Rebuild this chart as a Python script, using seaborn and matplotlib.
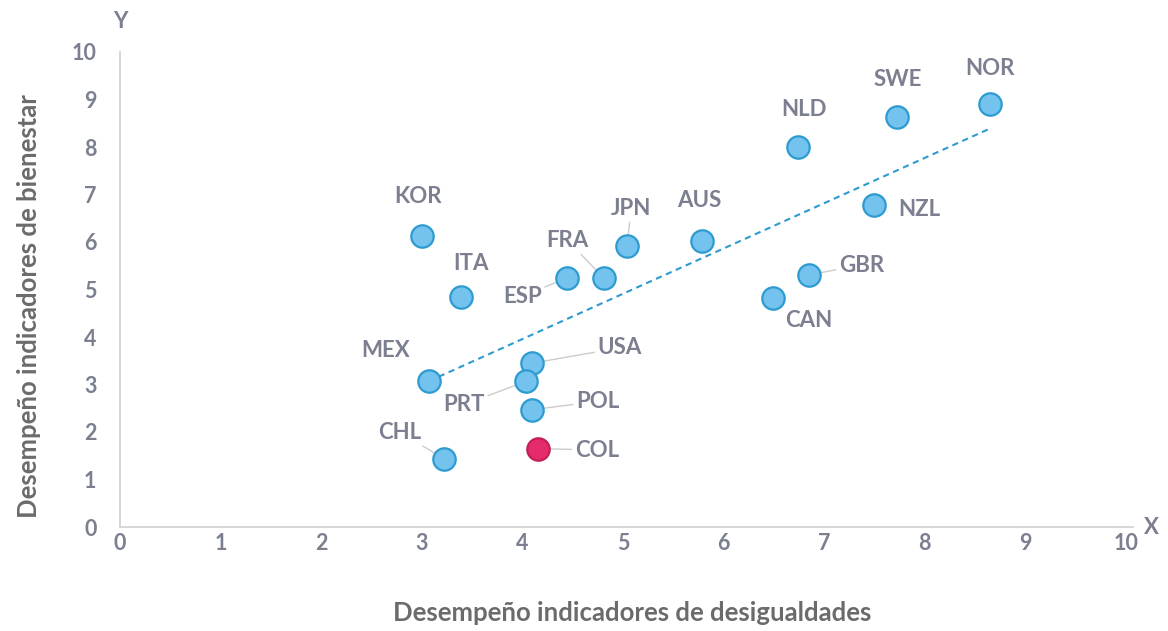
import matplotlib
matplotlib.use("Agg")
import matplotlib.pyplot as plt
import pandas as pd
import seaborn as sns

# Country codes and scores
countries = ['KOR', 'ITA', 'MEX', 'CHL', 'ESP', 'FRA', 'JPN', 'AUS', 'USA',
             'PRT', 'POL', 'COL', 'NLD', 'SWE', 'NOR', 'NZL', 'GBR', 'CAN']
desigualdades = [3.00, 3.39, 3.07, 3.22, 4.44, 4.81, 5.04, 5.79, 4.10,
                 4.04, 4.10, 4.16, 6.74, 7.72, 8.65, 7.50, 6.85, 6.49]
bienestar = [6.13, 4.84, 3.07, 1.44, 5.24, 5.24, 5.92, 6.03, 3.45,
             3.07, 2.47, 1.65, 7.99, 8.63, 8.90, 6.77, 5.31, 4.82]

# Dashed trend line ends
trend_x = [3.07, 8.65]
trend_y = [3.07, 8.39]

highlight = 'COL'
with_leader = ['ESP', 'FRA', 'JPN', 'USA', 'PRT', 'POL', 'CHL', 'COL', 'GBR']

# label offsets in points (layout only)
offsets = {
    'KOR': (-3, 28), 'ITA': (7, 24), 'MEX': (-31, 22), 'CHL': (-32, 19),
    'ESP': (-32, -13), 'FRA': (-26, 27), 'JPN': (3, 27), 'AUS': (-2, 29),
    'USA': (63, 11), 'PRT': (-45, -17), 'POL': (47, 6), 'COL': (42, -1),
    'NLD': (4, 27), 'SWE': (1, 27), 'NOR': (0, 26), 'NZL': (32, -3),
    'GBR': (38, 7), 'CAN': (26, -16),
}

df = pd.DataFrame({'pais': countries, 'x': desigualdades, 'y': bienestar})

sns.set_style("white")
plt.rcParams['font.family'] = ['Lato', 'DejaVu Sans']

label_col = '#7b7f90'
axis_col = '#6b6b6b'

fig = plt.figure(figsize=(11.68, 6.31), dpi=100)
ax = fig.add_axes([120 / 1168, 1 - 527 / 631, 1013 / 1168, 475 / 631])

# trend line
sns.lineplot(x=trend_x, y=trend_y, ax=ax, color='#2e9bd0', lw=1.5,
             linestyle=(0, (3, 2.2)), zorder=1)

others = df[df['pais'] != highlight]
col = df[df['pais'] == highlight]
sns.scatterplot(data=others, x='x', y='y', ax=ax, s=260, color='#73c3ee',
                edgecolor='#2e9bd0', linewidth=1.6, zorder=3)
sns.scatterplot(data=col, x='x', y='y', ax=ax, s=260, color='#e52b6b',
                edgecolor='#c41e58', linewidth=1.6, zorder=3)

for _, r in df.iterrows():
    dx, dy = offsets[r['pais']]
    arrow = None
    if r['pais'] in with_leader:
        arrow = dict(arrowstyle='-', color='#cccccc', lw=1,
                     shrinkA=0, shrinkB=8)
    ax.annotate(r['pais'], xy=(r['x'], r['y']), xytext=(dx, dy),
                textcoords='offset points', ha='center', va='center',
                fontsize=16, fontweight='bold', color=label_col,
                arrowprops=arrow, zorder=2)

ax.set_xlim(0, 10.07)
ax.set_ylim(0, 10)
ax.set_xticks(range(0, 11))
ax.set_yticks(range(0, 11))
ax.tick_params(length=0, labelsize=15.5, labelcolor=label_col)
ax.tick_params(axis='x', pad=4)
ax.tick_params(axis='y', pad=17)
for lab in ax.get_xticklabels() + ax.get_yticklabels():
    lab.set_fontweight('bold')

for side in ['top', 'right']:
    ax.spines[side].set_visible(False)
for side in ['left', 'bottom']:
    ax.spines[side].set_color('#d0d0d0')
    ax.spines[side].set_linewidth(1.2)

ax.set_xlabel('Desempeño indicadores de desigualdades', fontsize=18.5,
              fontweight='bold', color=axis_col)
ax.set_ylabel('Desempeño indicadores de bienestar', fontsize=18.5,
              fontweight='bold', color=axis_col)
ax.xaxis.set_label_coords(0.506, -0.155)
ax.yaxis.set_label_coords(-0.078, 0.465)

fig.text(120 / 1168, 1 - 22 / 631, 'Y', ha='center', va='center',
         fontsize=16, fontweight='bold', color=label_col)
fig.text(1151 / 1168, 1 - 527 / 631, 'X', ha='center', va='center',
         fontsize=16, fontweight='bold', color=label_col)

plt.savefig('out.png', dpi=100)
